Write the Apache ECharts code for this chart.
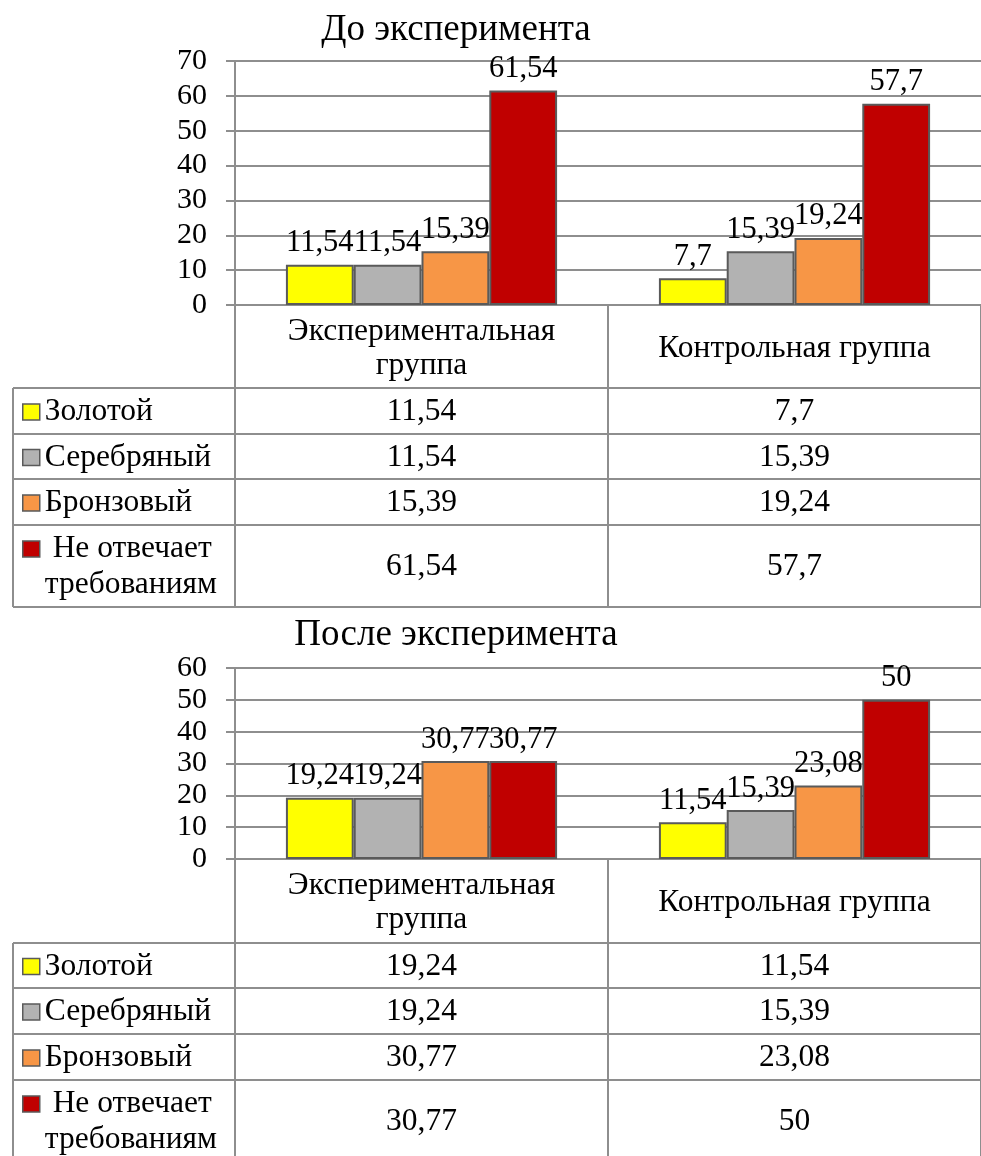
<!DOCTYPE html>
<html>
<head>
<meta charset="utf-8">
<script src="https://cdn.jsdelivr.net/npm/echarts@6/dist/echarts.min.js"></script>
<style>
  html, body { margin: 0; padding: 0; background: #ffffff; }
  #chart { width: 981px; height: 1156px; }
</style>
</head>
<body>
<div id="chart"></div>
<script>
// ---- data ----
const categories = ['Экспериментальная группа', 'Контрольная группа'];
const seriesNames = ['Золотой', 'Серебряный', 'Бронзовый', 'Не отвечает требованиям'];
const titles = ['До эксперимента', 'После эксперимента'];

const goldBefore = [11.54, 7.7];
const silverBefore = [11.54, 15.39];
const bronzeBefore = [15.39, 19.24];
const failBefore = [61.54, 57.7];

const goldAfter = [19.24, 11.54];
const silverAfter = [19.24, 15.39];
const bronzeAfter = [30.77, 23.08];
const failAfter = [30.77, 50];

const yMaxBefore = 70;
const yMaxAfter = 60;
const yStep = 10;

// ---- styling / layout ----
const FONT = 'Liberation Serif';
const colors = ['#FFFF00', '#B2B2B2', '#F79646', '#C00000'];
const lineColor = '#8e8e8e';
const barBorder = '#5a5a5a';
const GRID_LEFT = 235;
const GRID_W = 754;
const TABLE_LEFT = 13;
const TEXT_SIZE = 31.5;

const panels = [
  { title: titles[0], titleTop: 7, top: 61, bottom: 305,
    rows: [305, 388, 434, 479, 525, 607], yMax: yMaxBefore,
    data: [goldBefore, silverBefore, bronzeBefore, failBefore] },
  { title: titles[1], titleTop: 612, top: 668, bottom: 859,
    rows: [859, 943, 988, 1034, 1080, 1162], yMax: yMaxAfter,
    data: [goldAfter, silverAfter, bronzeAfter, failAfter] }
];

const fmt = v => String(v).replace('.', ',');
// long category names go on two lines in the table header
const wrapCategory = v => (v.length > 20 ? v.replace(' ', '\n') : v);
const lineStyle = { color: lineColor, width: 2 };
const textBase = { fontFamily: FONT, fontSize: TEXT_SIZE, color: '#000' };

const title = [], grid = [], xAxis = [], yAxis = [], series = [], legend = [], graphic = [];

panels.forEach((p, gi) => {
  title.push({
    text: p.title, left: 451, top: p.titleTop, textAlign: 'center',
    textStyle: { fontFamily: FONT, fontSize: 37, fontWeight: 'normal', color: '#000' }
  });
  grid.push({ left: GRID_LEFT, top: p.top, width: GRID_W, height: p.bottom - p.top });
  yAxis.push({
    gridIndex: gi, type: 'value', min: 0, max: p.yMax, interval: yStep,
    axisLine: { show: true, lineStyle },
    axisTick: { show: true, length: 9, lineStyle },
    axisLabel: { margin: 28, fontFamily: FONT, fontSize: 30, color: '#000' },
    splitLine: { show: true, lineStyle }
  });

  // header row of the data table: category names
  const firstAxis = xAxis.length;
  const hdrH = p.rows[1] - p.rows[0];
  xAxis.push({
    gridIndex: gi, type: 'category', data: categories, position: 'bottom',
    axisLine: { show: true, onZero: false, lineStyle },
    axisTick: { show: true, interval: 0, length: hdrH, lineStyle },
    axisLabel: {
      interval: 0, margin: hdrH / 2 + 2, verticalAlign: 'middle', align: 'center',
      formatter: wrapCategory, lineHeight: 34, ...textBase
    },
    splitLine: { show: false }
  });

  // one table row per series
  p.data.forEach((vals, k) => {
    const rowTop = p.rows[k + 1];
    const h = p.rows[k + 2] - rowTop;
    xAxis.push({
      gridIndex: gi, type: 'category', data: vals.map(fmt), position: 'bottom',
      offset: rowTop - p.bottom,
      axisLine: { show: true, onZero: false, lineStyle },
      axisTick: { show: true, interval: 0, length: h, lineStyle },
      axisLabel: { interval: 0, margin: h / 2 + 1, verticalAlign: 'middle', ...textBase },
      splitLine: { show: false }
    });

    series.push({
      type: 'bar', name: seriesNames[k], xAxisIndex: firstAxis, yAxisIndex: gi,
      data: vals, barGap: '0%', barCategoryGap: '27.3%',
      itemStyle: { color: colors[k], borderColor: barBorder, borderWidth: 2 },
      label: {
        show: true, position: 'top', distance: 6,
        formatter: d => fmt(d.value), ...textBase, fontSize: 30.5
      },
      emphasis: { disabled: true }
    });

    // legend key in the first column of the row; a long name wraps,
    // with the key beside its first line
    const twoLine = seriesNames[k].split(' ').length > 2;
    const LH = 36;
    const c = twoLine ? rowTop + 24 : rowTop + h / 2 + 1;
    legend.push({
      data: [seriesNames[k]], left: 22, top: twoLine ? c - 1.5 * LH : c - LH / 2,
      padding: 0, itemWidth: 17, itemHeight: 16, icon: 'rect', selectedMode: false,
      itemStyle: { borderColor: barBorder, borderWidth: 1.5 },
      formatter: name => {
        const w = name.split(' ');
        return w.length > 2
          ? '\n ' + w.slice(0, 2).join(' ') + '\n' + w.slice(2).join(' ')
          : name;
      },
      textStyle: { ...textBase, lineHeight: LH }
    });

    graphic.push({
      type: 'line', silent: true,
      shape: { x1: TABLE_LEFT, y1: rowTop, x2: GRID_LEFT, y2: rowTop },
      style: { stroke: lineColor, lineWidth: 2 }
    });
  });

  const tBottom = p.rows[p.rows.length - 1];
  graphic.push({
    type: 'line', silent: true,
    shape: { x1: TABLE_LEFT, y1: tBottom, x2: GRID_LEFT + GRID_W, y2: tBottom },
    style: { stroke: lineColor, lineWidth: 2 }
  });
  graphic.push({
    type: 'line', silent: true,
    shape: { x1: TABLE_LEFT, y1: p.rows[1], x2: TABLE_LEFT, y2: tBottom },
    style: { stroke: lineColor, lineWidth: 2 }
  });
});

const chart = echarts.init(document.getElementById('chart'), null, { renderer: 'canvas' });
chart.setOption({
  backgroundColor: '#ffffff',
  animation: false,
  title, grid, xAxis, yAxis, series, legend, graphic
});
</script>
</body>
</html>
